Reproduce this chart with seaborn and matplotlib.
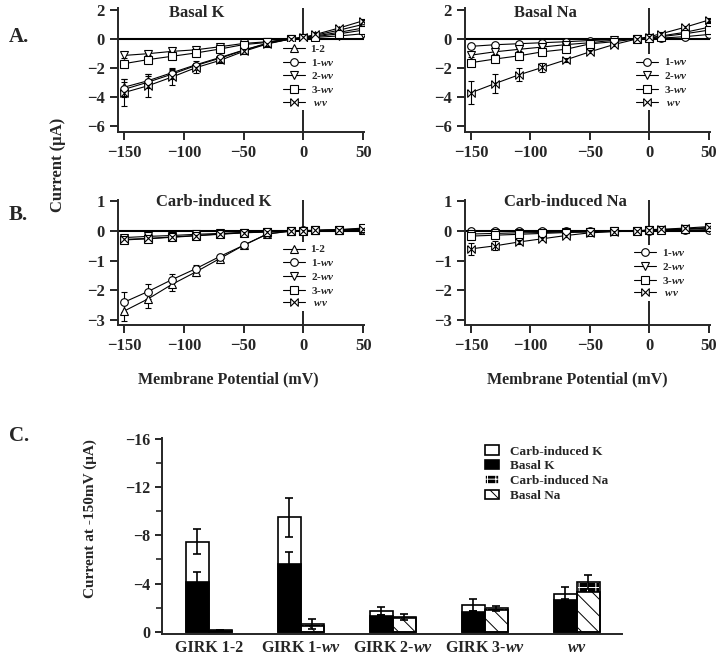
import matplotlib
matplotlib.use("Agg")
import matplotlib.pyplot as plt
import numpy as np
import pandas as pd
import seaborn as sns
from matplotlib.patches import Patch, Rectangle
from matplotlib.ticker import MultipleLocator

sns.set_theme(style="ticks")
plt.rcParams.update({
    "font.family": ["Liberation Serif", "DejaVu Serif"],
    "font.weight": "bold",
    "axes.labelweight": "bold",
    "mathtext.fontset": "custom",
    "mathtext.rm": "Liberation Serif:bold",
    "mathtext.it": "Liberation Serif:italic:bold",
    "mathtext.bf": "Liberation Serif:bold",
    "axes.linewidth": 1.4,
    "xtick.major.width": 1.4,
    "ytick.major.width": 1.4,
    "ytick.minor.width": 1.2,
    "xtick.direction": "out",
    "ytick.direction": "out",
    "hatch.linewidth": 0.7,
    "figure.facecolor": "white",
    "axes.facecolor": "white",
})

# ---- I-V data (membrane potential in mV, current in uA) ----
voltages = [-150, -130, -110, -90, -70, -50, -30, -10, 0, 10, 30, 50]

basal_k = {
    "1-2":  [-3.35, -2.90, -2.35, -1.80, -1.30, -0.78, -0.30, 0.0, 0.08, 0.25, 0.60, 1.00],
    "1-wv": [-3.50, -3.00, -2.45, -1.85, -1.35, -0.80, -0.32, 0.0, 0.08, 0.20, 0.45, 0.75],
    "2-wv": [-1.15, -1.03, -0.87, -0.76, -0.55, -0.32, -0.20, 0.0, 0.05, 0.10, 0.20, 0.35],
    "3-wv": [-1.72, -1.44, -1.21, -0.98, -0.71, -0.40, -0.25, 0.0, 0.06, 0.15, 0.35, 0.60],
    "wv":   [-3.72, -3.25, -2.65, -2.00, -1.50, -0.87, -0.35, 0.0, 0.10, 0.30, 0.75, 1.25],
}
basal_k_err = {
    "1-2":  [0.60, 0.45, 0.35, 0.25, 0.15, 0.10, 0.05, 0.0, 0.0, 0.05, 0.08, 0.10],
    "1-wv": [0.50, 0.40, 0.30, 0.20, 0.12, 0.08, 0.05, 0.0, 0.0, 0.05, 0.08, 0.10],
    "2-wv": [0.15, 0.12, 0.10, 0.08, 0.06, 0.04, 0.02, 0.0, 0.0, 0.02, 0.04, 0.05],
    "3-wv": [0.20, 0.15, 0.12, 0.10, 0.08, 0.05, 0.03, 0.0, 0.0, 0.03, 0.05, 0.08],
    "wv":   [0.95, 0.80, 0.55, 0.35, 0.20, 0.12, 0.06, 0.0, 0.0, 0.05, 0.10, 0.15],
}

basal_na = {
    "1-wv": [-0.52, -0.41, -0.34, -0.27, -0.20, -0.12, -0.05, 0.0, 0.05, 0.05, 0.15, 0.30],
    "2-wv": [-1.13, -0.90, -0.73, -0.57, -0.40, -0.27, -0.10, 0.0, 0.08, 0.20, 0.45, 0.80],
    "3-wv": [-1.65, -1.40, -1.18, -0.90, -0.72, -0.35, -0.20, 0.0, 0.06, 0.15, 0.35, 0.60],
    "wv":   [-3.73, -3.10, -2.50, -1.98, -1.45, -0.90, -0.40, 0.0, 0.15, 0.35, 0.80, 1.30],
}
basal_na_err = {
    "1-wv": [0.08, 0.06, 0.05, 0.04, 0.03, 0.02, 0.01, 0.0, 0.0, 0.02, 0.03, 0.05],
    "2-wv": [0.15, 0.12, 0.10, 0.08, 0.06, 0.04, 0.02, 0.0, 0.0, 0.03, 0.05, 0.08],
    "3-wv": [0.18, 0.15, 0.12, 0.10, 0.08, 0.05, 0.03, 0.0, 0.0, 0.03, 0.05, 0.08],
    "wv":   [0.80, 0.65, 0.45, 0.30, 0.15, 0.10, 0.05, 0.0, 0.0, 0.05, 0.10, 0.15],
}

carb_k = {
    "1-2":  [-2.70, -2.29, -1.80, -1.38, -0.93, -0.48, -0.09, 0.0, 0.02, 0.02, 0.03, 0.04],
    "1-wv": [-2.40, -2.04, -1.64, -1.27, -0.86, -0.48, -0.10, 0.0, 0.02, 0.02, 0.03, 0.05],
    "2-wv": [-0.22, -0.18, -0.15, -0.11, -0.08, -0.05, -0.02, 0.0, 0.01, 0.02, 0.04, 0.06],
    "3-wv": [-0.30, -0.26, -0.21, -0.16, -0.11, -0.06, -0.03, 0.0, 0.01, 0.02, 0.05, 0.10],
    "wv":   [-0.28, -0.25, -0.20, -0.15, -0.10, -0.05, -0.02, 0.0, 0.01, 0.02, 0.04, 0.08],
}
carb_k_err = {
    "1-2":  [0.35, 0.30, 0.22, 0.15, 0.08, 0.05, 0.02, 0.0, 0.0, 0.0, 0.0, 0.0],
    "1-wv": [0.33, 0.25, 0.20, 0.12, 0.06, 0.04, 0.02, 0.0, 0.0, 0.0, 0.0, 0.0],
    "2-wv": [0.05, 0.04, 0.03, 0.02, 0.02, 0.01, 0.0, 0.0, 0.0, 0.0, 0.0, 0.0],
    "3-wv": [0.06, 0.05, 0.04, 0.03, 0.02, 0.01, 0.0, 0.0, 0.0, 0.0, 0.0, 0.0],
    "wv":   [0.06, 0.05, 0.04, 0.03, 0.02, 0.01, 0.0, 0.0, 0.0, 0.0, 0.0, 0.0],
}

carb_na = {
    "1-wv": [0.00, 0.00, 0.00, 0.00, 0.00, -0.01, 0.00, 0.0, 0.01, 0.02, 0.03, 0.05],
    "2-wv": [-0.10, -0.08, -0.06, -0.05, -0.03, -0.02, -0.01, 0.0, 0.02, 0.03, 0.06, 0.10],
    "3-wv": [-0.17, -0.14, -0.11, -0.08, -0.05, -0.03, -0.01, 0.0, 0.03, 0.04, 0.07, 0.12],
    "wv":   [-0.60, -0.50, -0.37, -0.26, -0.15, -0.06, -0.02, 0.0, 0.05, 0.06, 0.10, 0.15],
}
carb_na_err = {
    "1-wv": [0.03, 0.02, 0.02, 0.01, 0.01, 0.0, 0.0, 0.0, 0.0, 0.0, 0.0, 0.0],
    "2-wv": [0.04, 0.03, 0.02, 0.02, 0.01, 0.0, 0.0, 0.0, 0.0, 0.0, 0.0, 0.0],
    "3-wv": [0.05, 0.04, 0.03, 0.02, 0.01, 0.0, 0.0, 0.0, 0.0, 0.0, 0.0, 0.0],
    "wv":   [0.20, 0.15, 0.08, 0.05, 0.03, 0.02, 0.0, 0.0, 0.0, 0.0, 0.0, 0.0],
}

# ---- currents at -150 mV (uA) ----
groups = ["GIRK 1-2", "GIRK 1-$wv$", "GIRK 2-$wv$", "GIRK 3-$wv$", "$wv$"]
basal_k_150 = [-4.10, -5.60, -1.30, -1.60, -2.60]
carb_k_150 = [-3.37, -3.90, -0.39, -0.59, -0.53]
basal_na_150 = [-0.08, -0.50, -1.10, -1.80, -3.30]
carb_na_150 = [-0.02, -0.14, -0.10, -0.14, -0.85]
basal_k_150_err = [0.83, 1.00, 0.10, 0.10, 0.10]
total_k_150_err = [1.05, 1.60, 0.35, 0.50, 0.56]
total_na_150_err = [0.00, 0.40, 0.27, 0.22, 0.58]

BOWTIE = [(-1, 1), (-1, -1), (1, 1), (1, -1), (-1, 1)]
MARKERS = {"1-2": "^", "1-wv": "o", "2-wv": "v", "3-wv": "s", "wv": BOWTIE}
LABELS = {"1-2": "1-2", "1-wv": "1-$wv$", "2-wv": "2-$wv$", "3-wv": "3-$wv$", "wv": " $wv$"}


def _iv_panel(ax, data, err, title, title_xy, ylim, yticks, leg_anchor):
    ax.axhline(0, color="black", lw=1.5, zorder=1)
    ax.axvline(0, color="black", lw=1.2, zorder=1)
    for name, vals in data.items():
        ax.errorbar(voltages, vals, yerr=err[name], fmt="none", ecolor="black",
                    elinewidth=0.8, capsize=2.5, capthick=0.8, zorder=2)
        sns.lineplot(x=voltages, y=vals, marker=MARKERS[name], color="black",
                     mfc="white", mec="black", mew=0.8, ms=5.5, lw=0.8,
                     label=LABELS[name], errorbar=None, ax=ax, zorder=3)
    ax.set_xlim(-155, 51)
    ax.set_ylim(*ylim)
    ax.set_xticks([-150, -100, -50, 0, 50])
    ax.set_yticks(yticks)
    ax.tick_params(labelsize=12, length=6)
    sns.despine(ax=ax)
    ax.set_xlabel("")
    ax.set_ylabel("")
    ax.text(title_xy[0], title_xy[1], title, transform=ax.transAxes, ha="center",
            va="center", fontsize=12, fontweight="bold")
    leg = ax.legend(loc="upper left", bbox_to_anchor=leg_anchor, fontsize=8,
                    frameon=True, framealpha=1, edgecolor="none", facecolor="white",
                    handlelength=2.0, labelspacing=0.25, borderpad=0.2,
                    handletextpad=0.5, borderaxespad=0)
    leg.set_zorder(5)


fig = plt.figure(figsize=(7.2, 6.62), dpi=100)

ax_bk = fig.add_axes([0.164, 0.8006, 0.342, 0.1866])
ax_bn = fig.add_axes([0.646, 0.8006, 0.340, 0.1866])
ax_ck = fig.add_axes([0.164, 0.509, 0.342, 0.189])
ax_cn = fig.add_axes([0.646, 0.509, 0.340, 0.189])
ax_c = fig.add_axes([0.225, 0.0423, 0.639, 0.296])

_iv_panel(ax_bk, basal_k, basal_k_err, "Basal K", (0.32, 0.965), (-6.45, 2.1), [-6, -4, -2, 0, 2], (0.66, 0.73))
_iv_panel(ax_bn, basal_na, basal_na_err, "Basal Na", (0.33, 0.965), (-6.45, 2.1), [-6, -4, -2, 0, 2], (0.69, 0.63))
_iv_panel(ax_ck, carb_k, carb_k_err, "Carb-induced K", (0.39, 0.985), (-3.17, 1.05), [-3, -2, -1, 0, 1], (0.66, 0.66))
_iv_panel(ax_cn, carb_na, carb_na_err, "Carb-induced Na", (0.41, 0.985), (-3.17, 1.05), [-3, -2, -1, 0, 1], (0.68, 0.64))

for ax, xc in [(ax_ck, 0.447), (ax_cn, 0.46)]:
    ax.set_xlabel("Membrane Potential (mV)", fontsize=11.5, fontweight="bold")
    ax.xaxis.set_label_coords(xc, -0.37)

fig.text(0.08, 1 - 165 / 662, "Current (\u03bcA)", rotation=90, ha="center", va="center",
         fontsize=12, fontweight="bold")
fig.text(0.012, 1 - 37 / 662, "A.", fontsize=15, fontweight="bold", va="center")
fig.text(0.012, 1 - 215 / 662, "B.", fontsize=15, fontweight="bold", va="center")
fig.text(0.012, 1 - 436 / 662, "C.", fontsize=15, fontweight="bold", va="center")

# ---- panel C: stacked bars ----
bars = pd.DataFrame({
    "group": groups * 2,
    "ion": ["K"] * len(groups) + ["Na"] * len(groups),
    "basal": basal_k_150 + basal_na_150,
    "total": [b + c for b, c in zip(basal_k_150, carb_k_150)]
             + [b + c for b, c in zip(basal_na_150, carb_na_150)],
})

sns.barplot(data=bars, x="group", y="total", hue="ion", hue_order=["K", "Na"],
            order=groups, palette={"K": "white", "Na": "black"}, saturation=1,
            edgecolor="black", linewidth=1.2, width=0.5, gap=0, errorbar=None,
            legend=False, ax=ax_c)
sns.barplot(data=bars, x="group", y="basal", hue="ion", hue_order=["K", "Na"],
            order=groups, palette={"K": "black", "Na": "white"}, saturation=1,
            edgecolor="black", linewidth=1.2, width=0.5, gap=0, errorbar=None,
            legend=False, ax=ax_c)

tot_k, tot_na, bas_k, bas_na = ax_c.containers[:4]
for p in tot_na:
    p.set_hatch("++")
    p.set_edgecolor("white")
    ax_c.add_patch(Rectangle(p.get_xy(), p.get_width(), p.get_height(),
                             fill=False, ec="black", lw=1.2, zorder=p.get_zorder()))
for p in bas_na:
    p.set_hatch("\\\\")

for cont, err in [(tot_k, total_k_150_err), (bas_k, basal_k_150_err), (tot_na, total_na_150_err)]:
    xs = [p.get_x() + p.get_width() / 2 for p in cont]
    ys = [p.get_y() + p.get_height() for p in cont]
    ax_c.errorbar(xs, ys, yerr=err, fmt="none", ecolor="black", elinewidth=1.2,
                  capsize=3, capthick=1.2, zorder=4)

ax_c.set_ylim(0.2, -16.1)
ax_c.set_xlim(-0.51, 4.49)
ax_c.yaxis.set_major_locator(MultipleLocator(4))
ax_c.yaxis.set_minor_locator(MultipleLocator(2))
ax_c.tick_params(axis="y", which="major", labelsize=11.5, length=5)
ax_c.tick_params(axis="y", which="minor", length=4)
ax_c.tick_params(axis="x", length=0, labelsize=11.5, pad=4)
sns.despine(ax=ax_c)
ax_c.set_xlabel("")
ax_c.set_ylabel("Current at -150mV (\u03bcA)", fontsize=11, fontweight="bold")
ax_c.yaxis.set_label_coords(-0.141, 0.59)

handles = [
    Patch(facecolor="white", edgecolor="black", lw=1.2, label="Carb-induced K"),
    Patch(facecolor="black", edgecolor="black", lw=1.2, label="Basal K"),
    Patch(facecolor="black", edgecolor="white", hatch="++", lw=1.2, label="Carb-induced Na"),
    Patch(facecolor="white", edgecolor="black", hatch="\\\\", lw=1.2, label="Basal Na"),
]
ax_c.legend(handles=handles, loc="upper left", bbox_to_anchor=(0.69, 0.99), frameon=False,
            fontsize=9.5, handlelength=1.1, handleheight=0.7, labelspacing=0.2,
            handletextpad=0.8, borderaxespad=0)

fig.savefig("out.png", dpi=100)
